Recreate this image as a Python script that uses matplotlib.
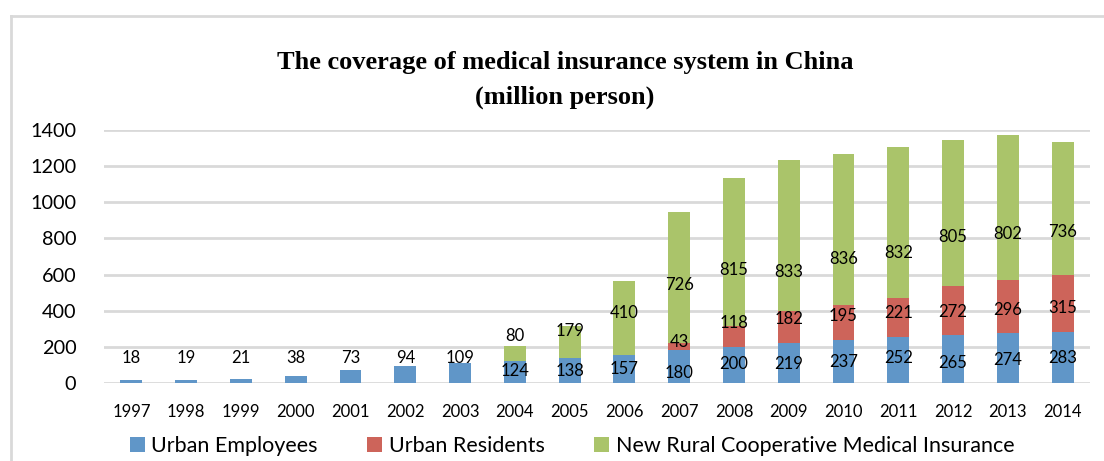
import matplotlib
matplotlib.use("Agg")
import matplotlib.pyplot as plt
from matplotlib.patches import Patch
from matplotlib.lines import Line2D
import numpy as np

years = ["1997", "1998", "1999", "2000", "2001", "2002", "2003", "2004", "2005",
         "2006", "2007", "2008", "2009", "2010", "2011", "2012", "2013", "2014"]
urban_employees = [18, 19, 21, 38, 73, 94, 109, 124, 138, 157, 180, 200, 219, 237, 252, 265, 274, 283]
urban_residents = [0, 0, 0, 0, 0, 0, 0, 0, 0, 0, 43, 118, 182, 195, 221, 272, 296, 315]
rural_coop = [0, 0, 0, 0, 0, 0, 0, 80, 179, 410, 726, 815, 833, 836, 832, 805, 802, 736]
series_names = ["Urban Employees", "Urban Residents",
                "New Rural Cooperative Medical Insurance"]
yticks = [0, 200, 400, 600, 800, 1000, 1200, 1400]

# where each value label sits (data units on the y axis)
employees_label_at = [138, 138, 138, 138, 138, 138, 138, 66, 66, 77, 55, 105, 105, 116, 138, 110, 127, 138]
residents_label_at = [None] * 10 + [227, 332, 354, 371, 387, 393, 404, 415]
rural_label_at = [None] * 7 + [260, 288, 387, 542, 625, 614, 686, 719, 808, 824, 836]

colors = ["#6096C8", "#CD645A", "#AAC46A"]
label_font = "Lato"

fig = plt.figure(figsize=(11.04, 4.61), dpi=100)
ax = fig.add_axes([104 / 1104, 1 - 383 / 461, (1090 - 104) / 1104, (383 - 130) / 461])

x = np.arange(len(years))
emp = np.array(urban_employees)
res = np.array(urban_residents)
rur = np.array(rural_coop)
w = 0.4
ax.bar(x, emp, w, color=colors[0], zorder=3)
ax.bar(x, res, w, bottom=emp, color=colors[1], zorder=3)
ax.bar(x, rur, w, bottom=emp + res, color=colors[2], zorder=3)

for vals, where in [(urban_employees, employees_label_at),
                    (urban_residents, residents_label_at),
                    (rural_coop, rural_label_at)]:
    for i, (v, y) in enumerate(zip(vals, where)):
        if v and y is not None:
            ax.text(i, y, str(v), ha="center", va="center", fontsize=12,
                    family=label_font, color="black", zorder=4)

ax.set_xlim(-0.5, len(years) - 0.5)
ax.set_ylim(0, 1400)
ax.set_yticks(yticks)
ax.set_yticklabels([str(t) for t in yticks], fontsize=14.3, family=label_font)
ax.set_xticks(x)
ax.set_xticklabels(years, fontsize=12, family=label_font)
ax.tick_params(length=0)
ax.tick_params(axis="y", pad=20)
ax.tick_params(axis="x", pad=15)
ax.grid(axis="y", color="#D9D9D9", linewidth=2, zorder=0)
for s in ax.spines.values():
    s.set_visible(False)

fig.text(565 / 1104, 1 - 63 / 461, "The coverage of medical insurance system in China",
         ha="center", va="center", fontsize=19, fontweight="bold", family="Liberation Serif")
fig.text(565 / 1104, 1 - 97 / 461, "(million person)",
         ha="center", va="center", fontsize=19, fontweight="bold", family="Liberation Serif")

# chart frame
fig.add_artist(Line2D([11 / 1104, 11 / 1104], [0, 1 - 16 / 461], transform=fig.transFigure,
                      color="#D9D9D9", linewidth=2))
fig.add_artist(Line2D([11 / 1104, 1], [1 - 16 / 461, 1 - 16 / 461], transform=fig.transFigure,
                      color="#D9D9D9", linewidth=2))

handles = [Patch(facecolor=c, edgecolor="none") for c in colors]
fig.legend(handles, series_names, loc="center", bbox_to_anchor=(572 / 1104, 1 - 446 / 461),
           ncol=3, frameon=False, prop={"family": label_font, "size": 15.5},
           handlelength=0.7, handleheight=0.7, handletextpad=0.3, columnspacing=2.3)

fig.savefig("out.png", dpi=100)
